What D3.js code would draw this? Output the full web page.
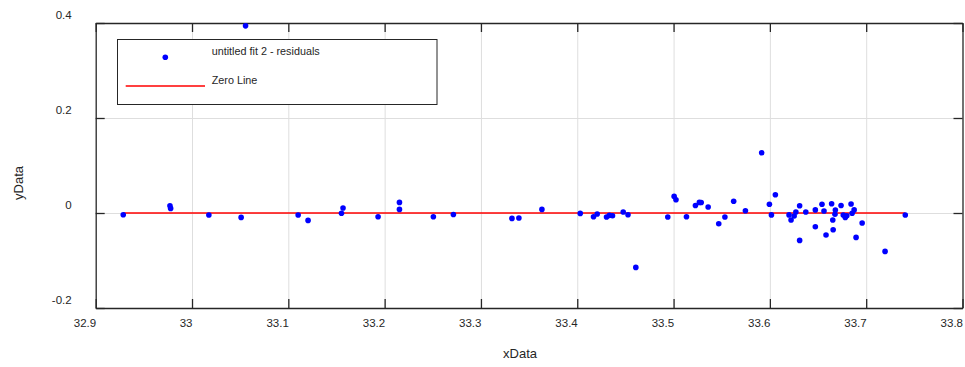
<!DOCTYPE html>
<html>
<head>
<meta charset="utf-8">
<script src="https://cdn.jsdelivr.net/npm/d3@7"></script>
<style>
  body { margin: 0; background: #fff; }
  svg { display: block; font-family: "Liberation Sans", Arial, sans-serif; }
  .grid line { stroke: #dedede; stroke-width: 1; }
  .grid path { display: none; }
  .frame path, .frame line { stroke: #262626; stroke-width: 1.3; }
  .frame text { fill: #262626; font-size: 11.5px; }
</style>
</head>
<body>
<svg id="chart" width="965" height="367"></svg>
<script>
// residuals
const xData = [
    32.9286, 32.9771, 32.9778, 33.0175, 33.0510, 33.0556, 33.1102, 33.1205, 33.1552, 33.1568,
    33.1932, 33.2154, 33.2154, 33.2506, 33.2714, 33.3322, 33.3394, 33.3633, 33.4031, 33.4169,
    33.4207, 33.4304, 33.4334, 33.4366, 33.4477, 33.4527, 33.4608, 33.4940, 33.5006, 33.5025,
    33.5134, 33.5227, 33.5268, 33.5287, 33.5359, 33.5469, 33.5533, 33.5624, 33.5746, 33.5915,
    33.5995, 33.6016, 33.6057, 33.6199, 33.6220, 33.6252, 33.6270, 33.6309, 33.6309, 33.6373,
    33.6472, 33.6472, 33.6541, 33.6562, 33.6583, 33.6641, 33.6653, 33.6657, 33.6680, 33.6676,
    33.6739, 33.6762, 33.6783, 33.6799, 33.6843, 33.6854, 33.6875, 33.6895, 33.6958, 33.7196,
    33.7406
];
const yData = [
    -0.0036, 0.0154, 0.0097, -0.0042, -0.0093, 0.3940, -0.0042, -0.0156, -0.0005, 0.0105,
    -0.0078, 0.0223, 0.0076, -0.0078, -0.0030, -0.0114, -0.0105, 0.0076, -0.0008, -0.0078,
    -0.0021, -0.0084, -0.0050, -0.0057, 0.0021, -0.0036, -0.1145, -0.0084, 0.0349, 0.0280,
    -0.0078, 0.0158, 0.0223, 0.0221, 0.0126, -0.0225, -0.0084, 0.0248, 0.0048, 0.1269,
    0.0185, -0.0040, 0.0385, -0.0040, -0.0147, -0.0063, 0.0021, 0.0154, -0.0577, 0.0021,
    0.0065, -0.0288, 0.0185, 0.0042, -0.0463, 0.0196, -0.0147, -0.0352, 0.0063, -0.0025,
    0.0158, -0.0042, -0.0095, -0.0057, 0.0189, -0.0004, 0.0065, -0.0514, -0.0211, -0.0808,
    -0.0042
];

const xTicks = [32.9, 33.0, 33.1, 33.2, 33.3, 33.4, 33.5, 33.6, 33.7, 33.8];
const xTickLabels = ['32.9', '33', '33.1', '33.2', '33.3', '33.4', '33.5', '33.6', '33.7', '33.8'];
const yTicks = [-0.2, 0, 0.2, 0.4];
const yTickLabels = ['-0.2', '0', '0.2', '0.4'];
const legendLabels = ['untitled fit 2 - residuals', 'Zero Line'];

const LEFT = 95.7, RIGHT = 962.5, TOP = 23, BOTTOM = 308;
const TICK = 9;

const svg = d3.select('#chart');
const x = d3.scaleLinear().domain([32.9, 33.8]).range([LEFT, RIGHT]);
const y = d3.scaleLinear().domain([-0.2, 0.4]).range([BOTTOM, TOP]);

// grid
svg.append('g')
    .attr('class', 'grid')
    .attr('transform', `translate(0, ${BOTTOM})`)
    .call(d3.axisBottom(x).tickValues(xTicks.slice(1, -1)).tickSize(-(BOTTOM - TOP)).tickFormat(''));
svg.append('g')
    .attr('class', 'grid')
    .attr('transform', `translate(${LEFT}, 0)`)
    .call(d3.axisLeft(y).tickValues(yTicks.slice(1, -1)).tickSize(-(RIGHT - LEFT)).tickFormat(''));

// frame with inward ticks
const bottomAxis = svg.append('g')
    .attr('class', 'frame')
    .attr('transform', `translate(0, ${BOTTOM})`)
    .call(d3.axisBottom(x).tickValues(xTicks).tickSize(-TICK).tickSizeOuter(0)
        .tickFormat((d, i) => xTickLabels[i]));
bottomAxis.selectAll('text')
    .attr('text-anchor', 'end')
    .attr('x', 0)
    .attr('y', 19)
    .attr('dy', null);

svg.append('g')
    .attr('class', 'frame')
    .attr('transform', `translate(0, ${TOP})`)
    .call(d3.axisTop(x).tickValues(xTicks).tickSize(-TICK).tickSizeOuter(0).tickFormat(''));

const leftAxis = svg.append('g')
    .attr('class', 'frame')
    .attr('transform', `translate(${LEFT}, 0)`)
    .call(d3.axisLeft(y).tickValues(yTicks).tickSize(-TICK).tickSizeOuter(0)
        .tickFormat((d, i) => yTickLabels[i]));
leftAxis.selectAll('text')
    .attr('x', -24)
    .attr('dy', -5);

svg.append('g')
    .attr('class', 'frame')
    .attr('transform', `translate(${RIGHT}, 0)`)
    .call(d3.axisRight(y).tickValues(yTicks).tickSize(-TICK).tickSizeOuter(0).tickFormat(''));

// zero line across the data range
const line = d3.line().x(d => x(d[0])).y(d => y(d[1]));
svg.append('path')
    .attr('d', line([[d3.min(xData), 0], [d3.max(xData), 0]]))
    .attr('stroke', '#ff0000')
    .attr('stroke-width', 1.5)
    .attr('fill', 'none');

// residual points
svg.append('g')
    .selectAll('circle')
    .data(xData)
    .join('circle')
    .attr('cx', d => x(d))
    .attr('cy', (d, i) => y(yData[i]))
    .attr('r', 2.8)
    .attr('fill', '#0000ff');

// axis titles
svg.append('text')
    .attr('x', 520)
    .attr('y', 358)
    .attr('text-anchor', 'middle')
    .attr('font-size', '13px')
    .attr('fill', '#262626')
    .text('xData');
svg.append('text')
    .attr('transform', 'translate(23, 183) rotate(-90)')
    .attr('text-anchor', 'middle')
    .attr('font-size', '13px')
    .attr('fill', '#262626')
    .text('yData');

// legend
const legend = svg.append('g');
legend.append('rect')
    .attr('x', 117.5)
    .attr('y', 39.5)
    .attr('width', 319.5)
    .attr('height', 65)
    .attr('fill', '#fff')
    .attr('stroke', '#262626')
    .attr('stroke-width', 1);
legend.append('circle')
    .attr('cx', 165.3)
    .attr('cy', 57.3)
    .attr('r', 2.8)
    .attr('fill', '#0000ff');
legend.append('line')
    .attr('x1', 125.7)
    .attr('x2', 205)
    .attr('y1', 86)
    .attr('y2', 86)
    .attr('stroke', '#ff0000')
    .attr('stroke-width', 1.5);
legend.selectAll('text')
    .data(legendLabels)
    .join('text')
    .attr('x', 211.7)
    .attr('y', (d, i) => [54.5, 84.2][i])
    .attr('font-size', '10.8px')
    .attr('fill', '#262626')
    .text(d => d);
</script>
</body>
</html>
